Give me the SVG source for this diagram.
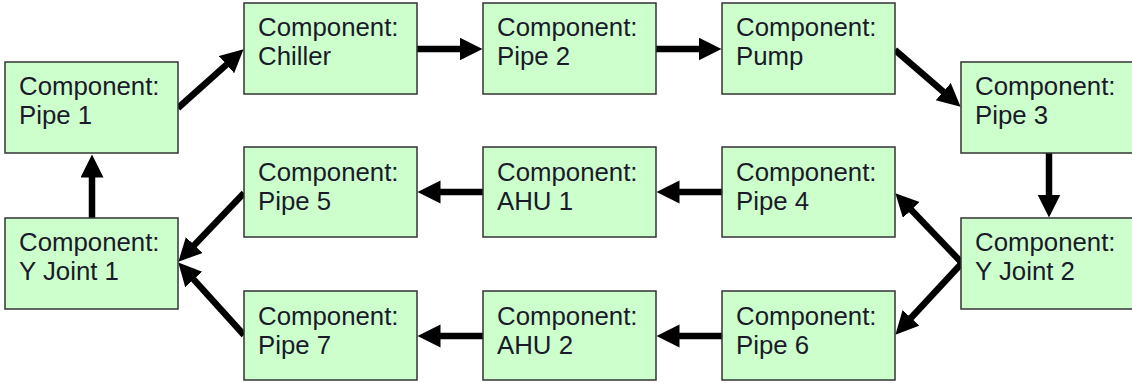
<svg xmlns="http://www.w3.org/2000/svg" width="1132" height="383" viewBox="0 0 1132 383">
<style>
.box{fill:#ccffcc;stroke:#333333;stroke-width:1.5}
.lbl{font-family:"Liberation Sans",Arial,sans-serif;font-size:25.8px;fill:#1a1a2a}
.edge{stroke:#000;stroke-width:6.5;fill:none;marker-end:url(#ah)}
</style>
<defs>
<marker id="ah" markerUnits="userSpaceOnUse" markerWidth="24" markerHeight="24" refX="0.5" refY="11.5" orient="auto" viewBox="0 0 24 24">
<path d="M0,0 L23,11.5 L0,23 Z" fill="#000"/>
</marker>
</defs>
<rect width="1132" height="383" fill="#ffffff"/>
<g id="connectors">
<line class="edge" x1="178" y1="108" x2="226.8" y2="64.3"/>
<line class="edge" x1="417" y1="49" x2="460" y2="49"/>
<line class="edge" x1="656" y1="49" x2="699" y2="49"/>
<line class="edge" x1="895" y1="50" x2="943.6" y2="92"/>
<line class="edge" x1="1049" y1="153" x2="1049" y2="195"/>
<line class="edge" x1="962" y1="263" x2="910.9" y2="209.6"/>
<line class="edge" x1="962" y1="263" x2="910.7" y2="318.2"/>
<line class="edge" x1="722" y1="192" x2="679" y2="192"/>
<line class="edge" x1="483" y1="192" x2="440" y2="192"/>
<line class="edge" x1="722" y1="336" x2="679" y2="336"/>
<line class="edge" x1="483" y1="336" x2="440" y2="336"/>
<line class="edge" x1="244" y1="193" x2="193.9" y2="245.4"/>
<line class="edge" x1="244" y1="335" x2="193.4" y2="279.1"/>
<line class="edge" x1="92" y1="218" x2="92" y2="177"/>
</g>
<g id="pipe1"><rect class="box" x="5" y="62" width="173" height="91"/><text class="lbl" x="19" y="95">Component:</text><text class="lbl" x="19" y="124">Pipe 1</text></g>
<g id="chiller"><rect class="box" x="244" y="3" width="173" height="91"/><text class="lbl" x="258" y="36">Component:</text><text class="lbl" x="258" y="65">Chiller</text></g>
<g id="pipe2"><rect class="box" x="483" y="3" width="173" height="91"/><text class="lbl" x="497" y="36">Component:</text><text class="lbl" x="497" y="65">Pipe 2</text></g>
<g id="pump"><rect class="box" x="722" y="3" width="173" height="91"/><text class="lbl" x="736" y="36">Component:</text><text class="lbl" x="736" y="65">Pump</text></g>
<g id="pipe3"><rect class="box" x="961" y="62" width="173" height="91"/><text class="lbl" x="975" y="95">Component:</text><text class="lbl" x="975" y="124">Pipe 3</text></g>
<g id="pipe5"><rect class="box" x="244" y="147" width="173" height="90"/><text class="lbl" x="258" y="181">Component:</text><text class="lbl" x="258" y="210">Pipe 5</text></g>
<g id="ahu1"><rect class="box" x="483" y="147" width="173" height="90"/><text class="lbl" x="497" y="181">Component:</text><text class="lbl" x="497" y="210">AHU 1</text></g>
<g id="pipe4"><rect class="box" x="722" y="147" width="173" height="90"/><text class="lbl" x="736" y="181">Component:</text><text class="lbl" x="736" y="210">Pipe 4</text></g>
<g id="yjoint1"><rect class="box" x="5" y="218" width="173" height="91"/><text class="lbl" x="19" y="251">Component:</text><text class="lbl" x="19" y="280">Y Joint 1</text></g>
<g id="yjoint2"><rect class="box" x="961" y="218" width="173" height="91"/><text class="lbl" x="975" y="251">Component:</text><text class="lbl" x="975" y="280">Y Joint 2</text></g>
<g id="pipe7"><rect class="box" x="244" y="291" width="173" height="89"/><text class="lbl" x="258" y="325">Component:</text><text class="lbl" x="258" y="354">Pipe 7</text></g>
<g id="ahu2"><rect class="box" x="483" y="291" width="173" height="89"/><text class="lbl" x="497" y="325">Component:</text><text class="lbl" x="497" y="354">AHU 2</text></g>
<g id="pipe6"><rect class="box" x="722" y="291" width="173" height="89"/><text class="lbl" x="736" y="325">Component:</text><text class="lbl" x="736" y="354">Pipe 6</text></g>
</svg>
